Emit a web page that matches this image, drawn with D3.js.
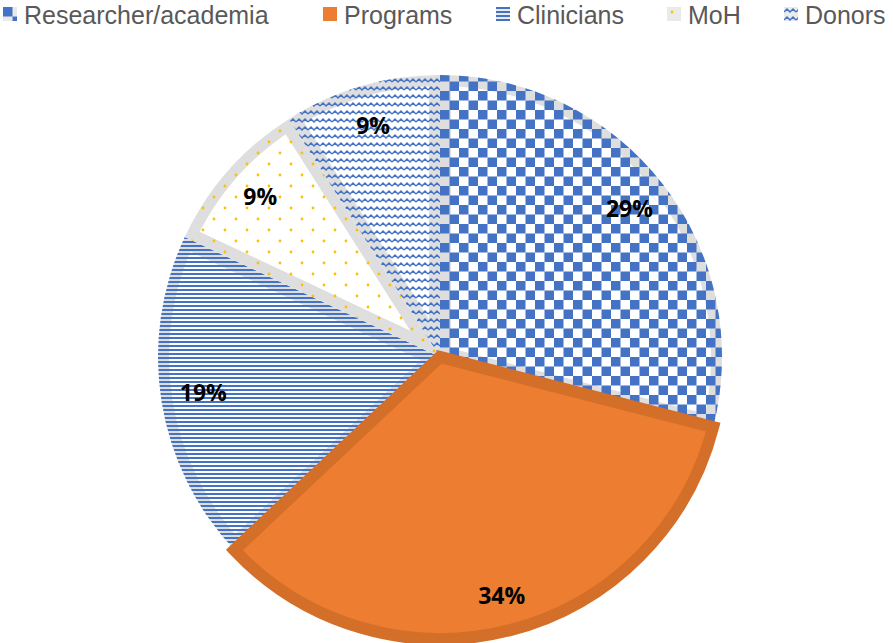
<!DOCTYPE html>
<html>
<head>
<meta charset="utf-8">
<script src="https://cdn.jsdelivr.net/npm/d3@7"></script>
<style>
  body { margin: 0; background: #fff; }
  svg { display: block; }
</style>
</head>
<body>
<div id="chart"></div>
<script>
// data
const categories = ['Researcher/academia', 'Programs', 'Clinicians', 'MoH', 'Donors'];
const values = [29, 34, 19, 9, 9];
const labels = ['29%', '34%', '19%', '9%', '9%'];

const width = 893, height = 643;
const cx = 440, cy = 357, radius = 282;

const svg = d3.select('#chart')
  .append('svg')
  .attr('width', width)
  .attr('height', height);

const defs = svg.append('defs');
const blue = '#4472C4';

// checkerboard
const pCheck = defs.append('pattern').attr('id', 'p0')
  .attr('patternUnits', 'userSpaceOnUse').attr('width', 19).attr('height', 19);
pCheck.append('rect').attr('width', 9.5).attr('height', 9.5).attr('fill', blue);
pCheck.append('rect').attr('x', 9.5).attr('y', 9.5).attr('width', 9.5).attr('height', 9.5).attr('fill', blue);

// horizontal lines
const pLines = defs.append('pattern').attr('id', 'p2')
  .attr('patternUnits', 'userSpaceOnUse').attr('width', 8).attr('height', 4);
pLines.append('rect').attr('width', 8).attr('height', 2).attr('fill', blue);

// dots
const pDots = defs.append('pattern').attr('id', 'p3')
  .attr('patternUnits', 'userSpaceOnUse').attr('width', 22).attr('height', 22);
pDots.append('circle').attr('cx', 5).attr('cy', 5).attr('r', 1.4).attr('fill', '#FFC000');
pDots.append('circle').attr('cx', 16).attr('cy', 16).attr('r', 1.4).attr('fill', '#FFC000');

// waves
const pWave = defs.append('pattern').attr('id', 'p4')
  .attr('patternUnits', 'userSpaceOnUse').attr('width', 12).attr('height', 8);
pWave.append('path').attr('d', 'M0,5 L3,2 L6,5 L9,2 L12,5')
  .attr('fill', 'none').attr('stroke', blue).attr('stroke-width', 1.5);

const fills = ['url(#p0)', '#ED7D31', 'url(#p2)', 'url(#p3)', 'url(#p4)'];

const pie = d3.pie().sort(null).value(d => d);
const arcs = pie(values);
const arc = d3.arc().innerRadius(0).outerRadius(radius);

const g = svg.append('g').attr('transform', 'translate(' + cx + ',' + cy + ')');

// clip paths for inner borders
arcs.forEach((d, i) => {
  defs.append('clipPath').attr('id', 'c' + i)
    .append('path').attr('d', arc(d));
});

// patterned slices: white base, gray inner border, pattern on top
arcs.forEach((d, i) => {
  if (i === 1) return;
  g.append('path').attr('d', arc(d))
    .attr('fill', '#fff')
    .attr('stroke', '#DEDEDE')
    .attr('stroke-width', 22)
    .attr('clip-path', 'url(#c' + i + ')');
  g.append('path').attr('d', arc(d))
    .attr('fill', fills[i]);
});

// programs slice on top
g.append('path').attr('d', arc(arcs[1]))
  .attr('fill', '#ED7D31')
  .attr('stroke', '#D46F2A')
  .attr('stroke-width', 12)
  .attr('stroke-linejoin', 'miter');

// labels
g.selectAll('text.lbl')
  .data(arcs)
  .enter()
  .append('text')
  .attr('class', 'lbl')
  .attr('transform', (d, i) => {
    const r = radius * (i === 1 ? 0.88 : 0.85);
    return 'translate(' + d3.arc().innerRadius(r).outerRadius(r).centroid(d) + ')';
  })
  .attr('text-anchor', 'middle')
  .attr('dy', '0.3em')
  .style('font-family', 'Open Sans, sans-serif')
  .style('font-weight', 'bold')
  .style('font-size', '23px')
  .attr('fill', '#000')
  .text((d, i) => labels[i]);

// legend
const legendX = [3, 323, 496, 667, 784];
const legend = svg.append('g');
categories.forEach((c, i) => {
  const item = legend.append('g').attr('transform', 'translate(' + legendX[i] + ',7)');
  if (i === 1) {
    item.append('rect').attr('width', 14).attr('height', 14).attr('fill', '#ED7D31');
  } else {
    item.append('rect').attr('width', 14).attr('height', 14).attr('fill', '#EAEAEA');
    item.append('rect').attr('width', 14).attr('height', 14).attr('fill', fills[i]);
  }
  item.append('text')
    .attr('x', 21)
    .attr('y', 16.5)
    .style('font-family', 'Liberation Sans, Arial, sans-serif')
    .style('font-size', '25px')
    .attr('fill', '#595959')
    .text(c);
});
</script>
</body>
</html>
